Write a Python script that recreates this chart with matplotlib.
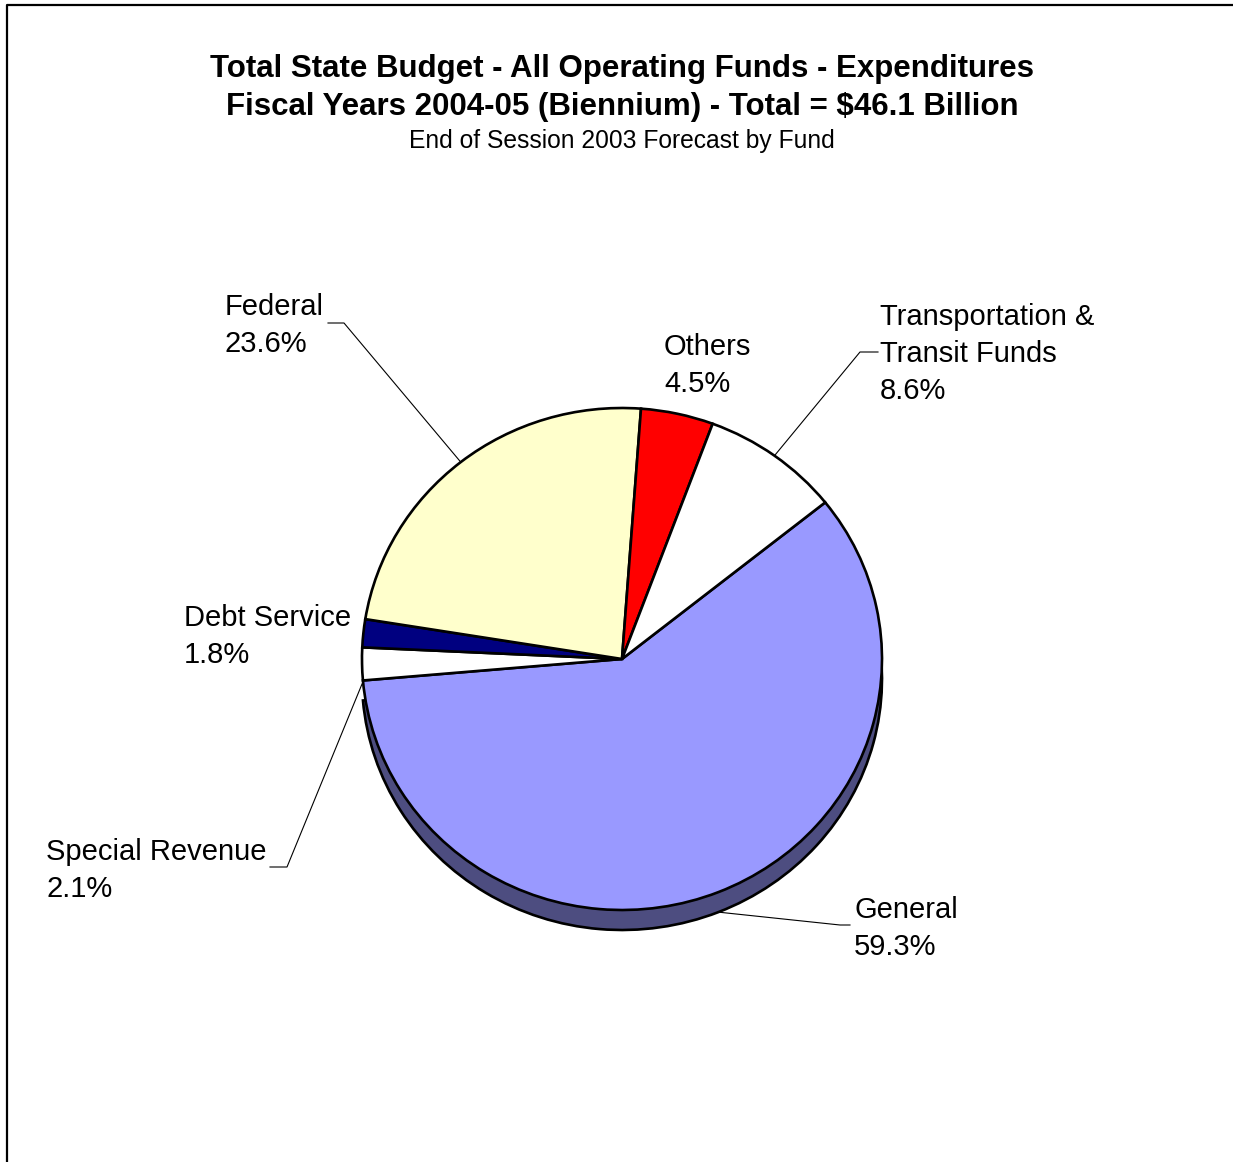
import numpy as np
import matplotlib
matplotlib.use("Agg")
import matplotlib.pyplot as plt

plt.rcParams['font.family'] = ['Liberation Sans', 'DejaVu Sans']

# budget shares, in the order the slices go clockwise from the top right
funds = ['General', 'Special Revenue', 'Debt Service', 'Federal', 'Others',
         'Transportation &\nTransit Funds']
shares = [59.3, 2.1, 1.8, 23.6, 4.5, 8.6]
pct_labels = ['59.3%', '2.1%', '1.8%', '23.6%', '4.5%', '8.6%']
colors = ['#9999FF', '#FFFFFF', '#000080', '#FFFFCC', '#FF0000', '#FFFFFF']
shadow_color = '#4D4D80'

title1 = 'Total State Budget - All Operating Funds - Expenditures'
title2 = 'Fiscal Years 2004-05 (Biennium) - Total = $46.1 Billion'
subtitle = 'End of Session 2003 Forecast by Fund'

W, H = 1233, 1162
k = 260 / 251.0          # squash y a bit so the pie looks slightly oval


def P(px, py):
    # picture pixel -> data coords
    return px, (H - py) * k


fig = plt.figure(figsize=(W / 100, H / 100), dpi=100)
fig.patch.set_facecolor('white')
ax = fig.add_axes([0, 0, 1, 1])

cx, cy = P(622, 659)
r = 260
depth = 20 * k

# 3d-ish depth under the front of the pie
sh, _ = ax.pie(shares, colors=[shadow_color] + ['none'] * 5, startangle=38.6,
               counterclock=False, radius=r, center=(cx, cy - depth),
               wedgeprops=dict(edgecolor='black', linewidth=1.9))
for i, w in enumerate(sh):
    w.set_zorder(0.5)
    if i > 0:
        w.set_edgecolor('none')

wedges, _ = ax.pie(shares, colors=colors, startangle=38.6, counterclock=False,
                   radius=r, center=(cx, cy),
                   wedgeprops=dict(edgecolor='black', linewidth=1.9))

ax.set_aspect('auto')
ax.set_xlim(0, W)
ax.set_ylim(0, H * k)
ax.axis('off')

# titles
ax.text(*P(622, 77), title1, ha='center', va='baseline', fontsize=22.5, fontweight='bold')
ax.text(*P(622, 115), title2, ha='center', va='baseline', fontsize=22.5, fontweight='bold')
ax.text(*P(622, 148), subtitle, ha='center', va='baseline', fontsize=17.7)

# label placement: left x, first baseline
label_pos = {
    'General': (854, 918),
    'Special Revenue': (46, 860),
    'Debt Service': (184, 626),
    'Federal': (225, 315),
    'Others': (664, 355),
    'Transportation &\nTransit Funds': (880, 325),
}
# leader lines: (label end x, elbow x, elbow y, on depth?)
leaders = {
    'General': (850, 840, 925, True),
    'Special Revenue': (270, 287, 867, True),
    'Federal': (328, 344, 323, False),
    'Transportation &\nTransit Funds': (878, 860, 352, False),
}

for w, name, pct in zip(wedges, funds, pct_labels):
    lx, ly = label_pos[name]
    lines = name.split('\n') + [pct]
    for j, line in enumerate(lines):
        ax.text(*P(lx, ly + 37 * j), line, ha='left', va='baseline', fontsize=21)
    if name in leaders:
        x0, x1, ey, low = leaders[name]
        mid = np.deg2rad((w.theta1 + w.theta2) / 2)
        axx = cx + r * np.cos(mid)
        ayy = cy + r * np.sin(mid) - (depth if low else 0)
        ex0, ey0 = P(x0, ey)
        ex1, _ = P(x1, ey)
        ax.plot([ex0, ex1, axx], [ey0, ey0, ayy], color='black', lw=0.8, zorder=3)

# outer frame (page border)
ax.plot([W, 7, 7], [P(0, 5)[1], P(0, 5)[1], 0], color='black', lw=1.6, zorder=4)

fig.savefig('out.png', dpi=100, facecolor='white')
